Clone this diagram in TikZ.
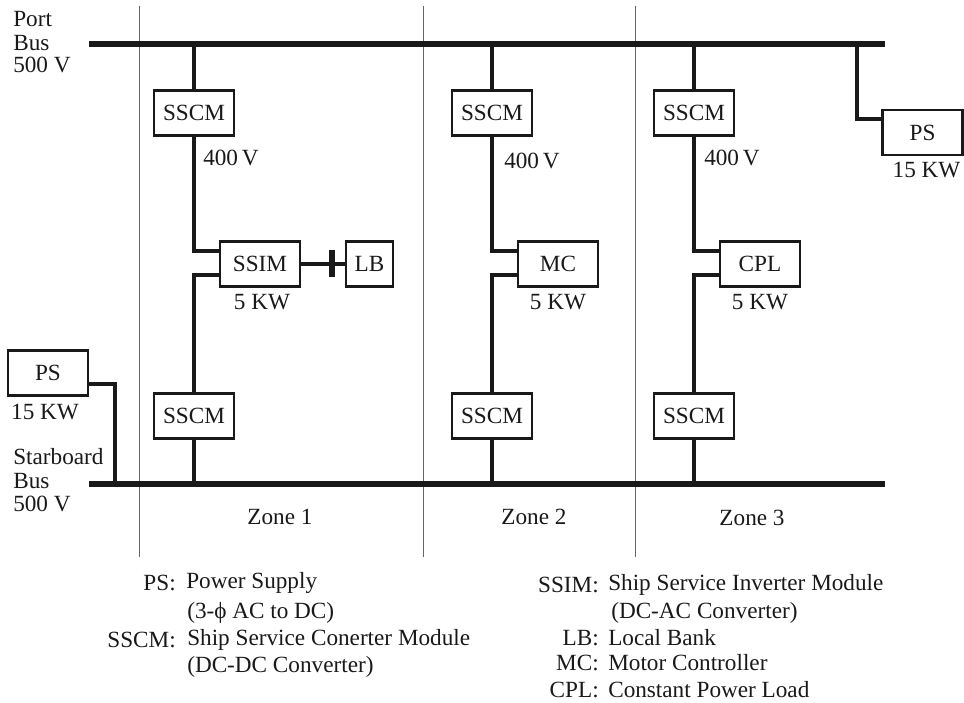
\documentclass[tikz,border=0pt]{standalone}
\usepackage{fontspec}
\setmainfont{Liberation Serif}
\tikzset{
    unit/.style={draw, line width=1.7pt, minimum width=2cm, minimum height=1.12cm, inner sep=0pt, fill=white, font=\fontsize{16.5}{16.5}\selectfont},
    smallunit/.style={unit, minimum width=1.17cm},
    bus/.style={line width=3.6pt},
    feeder/.style={line width=2.2pt},
    zoneline/.style={line width=0.6pt, black!60},
    lbl/.style={inner sep=0pt, font=\fontsize{16.5}{16.5}\selectfont},
    keylbl/.style={lbl, anchor=east},
    textlbl/.style={lbl, anchor=west},
}

\begin{document}
\begin{tikzpicture}[x=0.025cm, y=-0.025cm, black!90]
        \useasboundingbox (0,0) rectangle (964,702);

        % === ZONE LINES ===
        \draw[zoneline] (139,6) -- (139,557);
        \draw[zoneline] (423,6) -- (423,557);
        \draw[zoneline] (635,6) -- (635,557);

        % === BUSES ===
        \coordinate (portA) at (89,44);
        \coordinate (portB) at (885,44);
        \coordinate (starA) at (89,484);
        \coordinate (starB) at (885,484);
        \draw[bus] (portA) -- (portB);
        \draw[bus] (starA) -- (starB);
        \node[textlbl] (portname) at (13,19) {Port};
        \node[textlbl] (portbus) at (13,43) {Bus};
        \node[textlbl] (portvolt) at (13,65) {500 V};
        \node[textlbl] (starname) at (13,457) {Starboard};
        \node[textlbl] (starbus) at (13,481) {Bus};
        \node[textlbl] (starvolt) at (13,504) {500 V};

        % === ZONE 1 ===
        \node[unit] (top1) at (194,113) {SSCM};
        \node[unit] (bot1) at (194,416) {SSCM};
        \node[unit] (load1) at (260,264) {SSIM};
        \node[smallunit] (lb) at (369.5,264) {LB};
        \coordinate (port1) at (194,44);
        \coordinate (star1) at (194,484);
        \coordinate (in1a) at (220,251);
        \coordinate (in1b) at (220,275);
        \coordinate (barA) at (332,250);
        \coordinate (barB) at (332,277);
        \draw[feeder] (port1) -- (top1.north);
        \draw[feeder] (top1.south) |- (in1a);
        \draw[feeder] (bot1.north) |- (in1b);
        \draw[feeder] (bot1.south) -- (star1);
        \draw[feeder] (load1.east) -- (lb.west);
        \draw[line width=3.6pt] (barA) -- (barB);
        \node[textlbl] (volt1) at (203,158) {400\,V};
        \node[lbl] (kw1) at (262,302) {5 KW};
        \node[lbl] (zone1) at (280,517) {Zone 1};

        % === ZONE 2 ===
        \node[unit] (top2) at (492,113) {SSCM};
        \node[unit] (bot2) at (492,416) {SSCM};
        \node[unit] (load2) at (558,264) {MC};
        \coordinate (port2) at (492,44);
        \coordinate (star2) at (492,484);
        \coordinate (in2a) at (518,251);
        \coordinate (in2b) at (518,275);
        \draw[feeder] (port2) -- (top2.north);
        \draw[feeder] (top2.south) |- (in2a);
        \draw[feeder] (bot2.north) |- (in2b);
        \draw[feeder] (bot2.south) -- (star2);
        \node[textlbl] (volt2) at (504,161) {400\,V};
        \node[lbl] (kw2) at (558,302) {5 KW};
        \node[lbl] (zone2) at (534,517) {Zone 2};

        % === ZONE 3 ===
        \node[unit] (top3) at (694,113) {SSCM};
        \node[unit] (bot3) at (694,416) {SSCM};
        \node[unit] (load3) at (760,264) {CPL};
        \coordinate (port3) at (694,44);
        \coordinate (star3) at (694,484);
        \coordinate (in3a) at (720,251);
        \coordinate (in3b) at (720,275);
        \draw[feeder] (port3) -- (top3.north);
        \draw[feeder] (top3.south) |- (in3a);
        \draw[feeder] (bot3.north) |- (in3b);
        \draw[feeder] (bot3.south) -- (star3);
        \node[textlbl] (volt3) at (704,158) {400\,V};
        \node[lbl] (kw3) at (760,302) {5 KW};
        \node[lbl] (zone3) at (752,518) {Zone 3};

        % === POWER SUPPLIES ===
        \node[unit] (psright) at (922.5,132.5) {PS};
        \node[unit] (psleft) at (48,373) {PS};
        \coordinate (psrightin) at (882,119);
        \coordinate (psrightbus) at (857,44);
        \coordinate (psleftout) at (89,384);
        \coordinate (psleftbus) at (115,484);
        \draw[feeder] (psrightbus) |- (psrightin);
        \draw[feeder] (psleftout) -| (psleftbus);
        \node[lbl] (kwright) at (926.5,170) {15 KW};
        \node[lbl] (kwleft) at (45,412) {15 KW};

        % === LEGEND ===
        \node[keylbl] (keyps) at (176,583) {PS:};
        \node[textlbl] (txtps) at (186,583) {Power Supply};
        \node[textlbl] (txtac) at (187,613) {(3-ϕ AC to DC)};
        \node[keylbl] (keysscm) at (176,640) {SSCM:};
        \node[textlbl] (txtsscm) at (187,640) {Ship Service Conerter Module};
        \node[textlbl] (txtdc) at (187,667) {(DC-DC Converter)};
        \node[keylbl] (keyssim) at (599,585) {SSIM:};
        \node[textlbl] (txtssim) at (608,585) {Ship Service Inverter Module};
        \node[textlbl] (txtdcac) at (611,613) {(DC-AC Converter)};
        \node[keylbl] (keylb) at (599,638) {LB:};
        \node[textlbl] (txtlb) at (608,638) {Local Bank};
        \node[keylbl] (keymc) at (599,663) {MC:};
        \node[textlbl] (txtmc) at (608,663) {Motor Controller};
        \node[keylbl] (keycpl) at (599,690) {CPL:};
        \node[textlbl] (txtcpl) at (608,690) {Constant Power Load};

\end{tikzpicture}
\end{document}
